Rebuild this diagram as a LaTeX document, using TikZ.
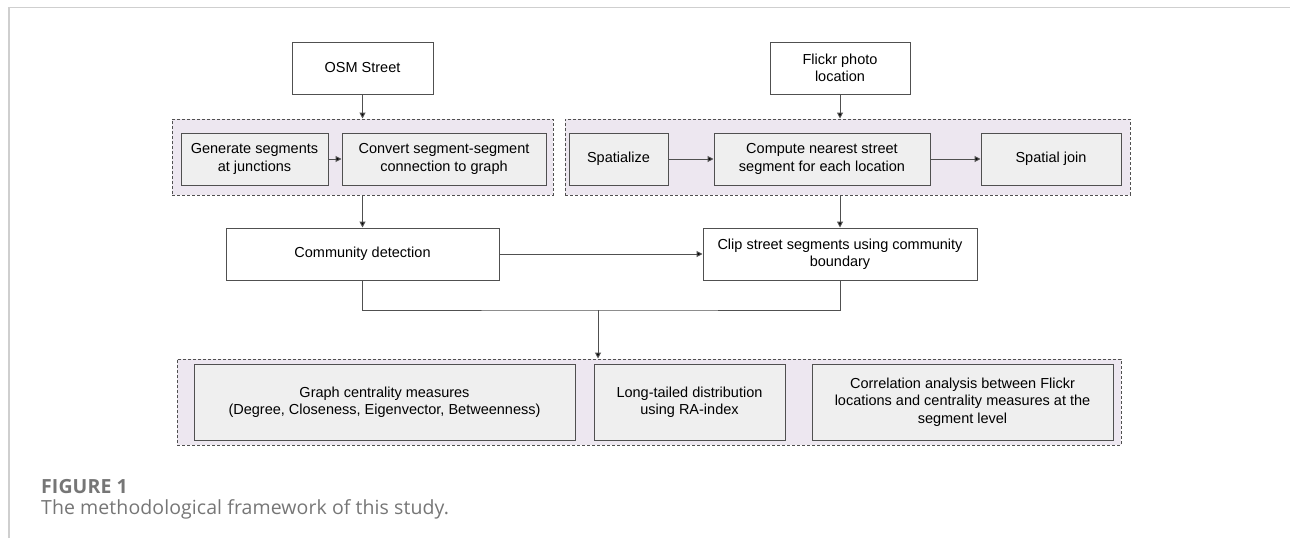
\documentclass[tikz,border=0pt]{standalone}
\usepackage{fontspec}
\setmainfont{Liberation Sans}
\newfontfamily\capfont[LetterSpace=0.45]{Open Sans}
\usetikzlibrary{arrows.meta}
\definecolor{lineg}{HTML}{505050}
\definecolor{groupfill}{HTML}{EDE7F0}
\definecolor{boxfill}{HTML}{EFEFEF}
\definecolor{framegray}{HTML}{CFCFCF}
\definecolor{capgray}{HTML}{767676}
\tikzstyle{plain}=[draw=lineg,fill=white,line width=1pt,inner sep=0pt,align=center,font=\fontsize{14.5}{17.5}\selectfont]
\tikzstyle{inner}=[plain,fill=boxfill]
\tikzstyle{group}=[draw=lineg,fill=groupfill,line width=1pt,dash pattern=on 3pt off 2pt,inner sep=0pt]
\tikzstyle{arrow}=[draw=lineg,line width=1pt,-{Triangle[length=6pt,width=6pt,fill=black]}]
\newcommand{\procnode}[4]{\node[#1] (#2) at (#3) {#4};}
\newcommand{\myarrow}[2]{\draw[arrow] (#1) -- (#2);}

\begin{document}
\begin{tikzpicture}[x=1pt,y=-1pt]
    \useasboundingbox (0,0) rectangle (1290,538);
    \draw[framegray,line width=1.5pt] (9,538) -- (9,7.5) -- (1290,7.5);

    % data sources
    \procnode{plain,minimum width=141pt,minimum height=52pt}{osm}{362.5,68}{OSM Street}
    \procnode{plain,minimum width=140pt,minimum height=52pt}{flickr}{840,68}{Flickr photo\\location}

    % preprocessing groups
    \procnode{group,minimum width=381pt,minimum height=76pt}{grpa}{362.5,157}{}
    \procnode{group,minimum width=565pt,minimum height=76pt}{grpb}{847.5,157}{}
    \procnode{inner,minimum width=147pt,minimum height=52pt}{gen}{254.5,159}{Generate segments\\at junctions}
    \procnode{inner,minimum width=204pt,minimum height=52pt}{conv}{444,159}{Convert segment-segment\\connection to graph}
    \procnode{inner,minimum width=99pt,minimum height=52pt}{spat}{618.5,159}{Spatialize}
    \procnode{inner,minimum width=216pt,minimum height=52pt}{comp}{822,159}{Compute nearest street\\segment for each location}
    \procnode{inner,minimum width=140pt,minimum height=52pt}{join}{1051,159}{Spatial join}

    % middle row
    \procnode{plain,minimum width=273pt,minimum height=52pt}{comm}{362.5,254}{Community detection}
    \procnode{plain,minimum width=274pt,minimum height=52pt}{clip}{840,254}{Clip street segments using community\\boundary}

    % analysis group
    \procnode{group,minimum width=944pt,minimum height=86pt}{grpc}{649,402}{}
    \procnode{inner,minimum width=381pt,minimum height=76pt}{graph}{384.5,402}{Graph centrality measures\\(Degree, Closeness, Eigenvector, Betweenness)}
    \procnode{inner,minimum width=191pt,minimum height=76pt}{long}{689.5,402}{Long-tailed distribution\\using RA-index}
    \procnode{inner,minimum width=301pt,minimum height=76pt}{corr}{962.5,402}{Correlation analysis between Flickr\\locations and centrality measures at the\\segment level}

    \coordinate (merge) at (598,310);

    \myarrow{osm.south}{osm.south |- grpa.north}
    \myarrow{flickr.south}{flickr.south |- grpb.north}
    \myarrow{gen}{conv}
    \myarrow{spat}{comp}
    \myarrow{comp}{join}
    \myarrow{grpa.south}{comm.north}
    \myarrow{clip.north |- grpb.south}{clip.north}
    \myarrow{comm}{clip}
    \draw[lineg,line width=1pt] (comm.south) |- (merge) -| (clip.south);
    \myarrow{merge}{merge |- grpc.north}

    % caption
    \node[anchor=base west,inner sep=0pt,text=capgray,font=\capfont\bfseries\fontsize{19.5}{23}\selectfont] (fig) at (41,493) {FIGURE 1};
    \node[anchor=base west,inner sep=0pt,text=capgray,font=\capfont\fontsize{19.5}{23}\selectfont] (cap) at (41,514) {The methodological framework of this study.};
\end{tikzpicture}
\end{document}
